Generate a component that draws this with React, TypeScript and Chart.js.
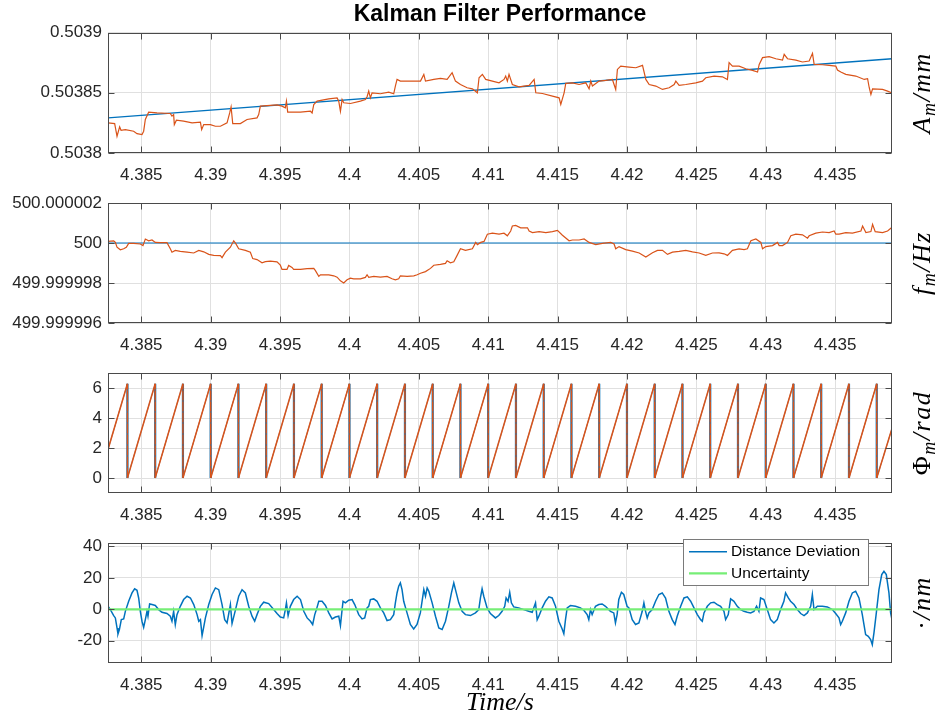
import React, { useEffect, useRef } from 'react';
import { Chart, registerables } from 'chart.js';

Chart.register(...registerables);

// ---------------- shared axis values ----------------
const X_MIN = 4.3826;
const X_MAX = 4.4391;
const xTicks = [4.385, 4.39, 4.395, 4.4, 4.405, 4.41, 4.415, 4.42, 4.425, 4.43, 4.435];
const xTickLabels = ['4.385', '4.39', '4.395', '4.4', '4.405', '4.41', '4.415', '4.42', '4.425', '4.43', '4.435'];

// ---------------- panel 1: amplitude (mm) ----------------
const ampTicks = [0.5038, 0.50385, 0.5039];
const ampTickLabels = ['0.5038', '0.50385', '0.5039'];
const ampModelT = [4.3826, 4.4391];
const ampModelV = [0.5038292, 0.5038783];
const ampEstT = [
  4.3826, 4.38308, 4.38325, 4.38344, 4.38354, 4.38385, 4.38445, 4.38469, 4.38505, 4.38517,
  4.38529, 4.38553, 4.38613, 4.38709, 4.38721, 4.38733, 4.38738, 4.38753, 4.38805, 4.38866,
  4.38926, 4.38935, 4.3895, 4.38998, 4.39034, 4.3907, 4.39118, 4.39137, 4.39147, 4.39159,
  4.39214, 4.39262, 4.39334, 4.39346, 4.39358, 4.39406, 4.39478, 4.39514, 4.39538, 4.39546,
  4.39555, 4.39647, 4.39719, 4.39731, 4.39743, 4.39767, 4.39851, 4.39911, 4.39923, 4.39935,
  4.39947, 4.39959, 4.40007, 4.40079, 4.40115, 4.40127, 4.40139, 4.40151, 4.40163, 4.40223,
  4.40283, 4.40319, 4.40331, 4.40343, 4.40367, 4.4044, 4.40512, 4.40536, 4.40548, 4.40608,
  4.40656, 4.40704, 4.4074, 4.40764, 4.408, 4.40848,
  4.40886, 4.40922, 4.40934, 4.40958, 4.40982, 4.4103, 4.41078, 4.41114, 4.41126, 4.41138,
  4.4115, 4.41174, 4.41222, 4.41295, 4.41331, 4.41343, 4.41391, 4.41463, 4.41511, 4.41523,
  4.41547, 4.41559, 4.41607, 4.41655, 4.41703, 4.41727, 4.41739, 4.41751, 4.41799, 4.41847,
  4.41895, 4.41919, 4.41931, 4.41955, 4.42015, 4.42064, 4.42112, 4.42136, 4.4216, 4.42208,
  4.42256, 4.42304, 4.4234, 4.42352, 4.42376, 4.42424, 4.42496, 4.42544, 4.42568, 4.42628,
  4.42688, 4.42724, 4.42736, 4.4276, 4.42808, 4.42856, 4.42905, 4.42941, 4.42953, 4.42977,
  4.43025, 4.43073, 4.43121, 4.43133, 4.43157, 4.43217, 4.43265, 4.43313, 4.43337, 4.43349,
  4.43409, 4.43457, 4.43505, 4.43517, 4.43541, 4.43577, 4.43649, 4.4371, 4.43734, 4.43746,
  4.43758, 4.4377, 4.43842, 4.43878, 4.43906,
];
const ampEstV = [
  0.503825, 0.5038244, 0.5038139, 0.5038217, 0.5038189, 0.5038194, 0.5038181, 0.5038161, 0.5038153, 0.5038181,
  0.5038278, 0.5038339, 0.5038333, 0.5038328, 0.5038306, 0.5038319, 0.5038236, 0.5038272, 0.5038264, 0.503825,
  0.5038256, 0.5038194, 0.5038236, 0.5038236, 0.5038222, 0.5038222, 0.503825, 0.5038333, 0.5038383, 0.5038244,
  0.5038244, 0.5038278, 0.5038292, 0.5038319, 0.5038389, 0.5038394, 0.50384, 0.5038389, 0.5038375, 0.5038431,
  0.5038339, 0.5038339, 0.5038347, 0.5038333, 0.5038403, 0.5038431, 0.503845, 0.5038458, 0.5038431, 0.5038347,
  0.5038444, 0.5038417, 0.5038411, 0.5038431, 0.5038444, 0.5038467, 0.5038514, 0.5038458, 0.50385, 0.5038492,
  0.5038506, 0.5038492, 0.5038556, 0.5038611, 0.5038597, 0.5038597, 0.5038597, 0.5038653, 0.5038597, 0.5038611,
  0.5038619, 0.5038611, 0.5038667, 0.5038597, 0.5038569, 0.5038542,
  0.5038533, 0.50385, 0.5038625, 0.5038653, 0.5038611, 0.5038597, 0.5038583, 0.5038611, 0.5038639, 0.5038597,
  0.5038653, 0.5038569, 0.503855, 0.5038561, 0.5038611, 0.50385, 0.5038494, 0.5038472, 0.5038458, 0.5038403,
  0.50385, 0.5038578, 0.5038583, 0.5038569, 0.5038583, 0.5038533, 0.5038597, 0.5038556, 0.5038597, 0.5038603,
  0.5038611, 0.5038528, 0.5038694, 0.5038722, 0.5038714, 0.5038708, 0.5038728, 0.5038611, 0.5038569, 0.5038556,
  0.5038528, 0.5038542, 0.5038569, 0.5038597, 0.5038561, 0.5038569, 0.5038583, 0.5038597, 0.5038625, 0.5038639,
  0.5038633, 0.5038611, 0.503875, 0.5038722, 0.5038722, 0.50387, 0.5038686, 0.5038672, 0.5038736, 0.5038792,
  0.50388, 0.5038783, 0.5038772, 0.5038819, 0.5038783, 0.5038772, 0.5038756, 0.5038764, 0.5038828, 0.5038736,
  0.5038733, 0.5038728, 0.5038722, 0.5038689, 0.5038672, 0.5038653, 0.5038639, 0.5038611, 0.5038617, 0.5038542,
  0.5038486, 0.5038533, 0.5038528, 0.5038514, 0.50385,
];

// ---------------- panel 2: frequency (Hz) ----------------
const freqTicks = [499.999996, 499.999998, 500, 500.000002];
const freqTickLabels = ['499.999996', '499.999998', '500', '500.000002'];
const freqModelT = [4.3826, 4.4391];
const freqModelV = [500, 500];
const freqEstT = [
  4.3826, 4.38301, 4.38313, 4.38325, 4.38349, 4.38373, 4.38392, 4.38409, 4.38445, 4.38493,
  4.38512, 4.38529, 4.38553, 4.38577, 4.38601, 4.38637, 4.38685, 4.38709, 4.38721, 4.38745,
  4.38781, 4.3883, 4.38878, 4.38914, 4.3895, 4.38986, 4.39022, 4.3907, 4.39082, 4.39106,
  4.39142, 4.39166, 4.3918, 4.39202, 4.3925, 4.39286, 4.39303, 4.39334, 4.3937, 4.39394,
  4.3943, 4.39478, 4.39502, 4.39514, 4.3955, 4.39562, 4.39586, 4.39598, 4.39647, 4.39695,
  4.39743, 4.39755, 4.39779, 4.39791, 4.39851, 4.39887, 4.39911, 4.39935, 4.39959, 4.39983,
  4.40007, 4.40031, 4.40079, 4.40115, 4.40127, 4.40139, 4.40175, 4.40223, 4.40271, 4.40307,
  4.40331, 4.40355, 4.40367, 4.40416, 4.40464, 4.40488, 4.40512, 4.40548, 4.40584, 4.40608,
  4.40656, 4.40692, 4.40704, 4.40728, 4.40752, 4.40776, 4.408, 4.40836,
  4.40886, 4.4091, 4.40922, 4.40946, 4.4097, 4.40994, 4.4103, 4.41078, 4.41114, 4.41138,
  4.41162, 4.41174, 4.41198, 4.41234, 4.41283, 4.41295, 4.41319, 4.41367, 4.41415, 4.41463,
  4.41499, 4.41535, 4.41583, 4.41607, 4.41655, 4.41691, 4.41727, 4.41775, 4.41823, 4.41883,
  4.41907, 4.41919, 4.41943, 4.41991, 4.42039, 4.42088, 4.42136, 4.42184, 4.4222, 4.42256,
  4.42292, 4.42328, 4.42376, 4.42424, 4.42472, 4.4252, 4.42568, 4.42616, 4.42664, 4.427,
  4.42724, 4.4276, 4.42808, 4.42844, 4.42868, 4.42893, 4.42929, 4.42965, 4.42977, 4.43001,
  4.43049, 4.43085, 4.43097, 4.43121, 4.43157, 4.43181, 4.43217, 4.43265, 4.43301, 4.43313,
  4.43361, 4.43409, 4.43457, 4.43493, 4.43505, 4.43529, 4.43577, 4.43625, 4.43686, 4.43698,
  4.43722, 4.43758, 4.4377, 4.43789, 4.43842, 4.43878, 4.43906,
];
const freqEstV = [
  500.00000008, 500.00000011, 500.00000003, 499.99999979, 499.99999966, 499.99999971, 499.99999979, 499.99999998, 499.99999998, 499.99999995,
  499.99999987, 500.0000002, 500.00000011, 500.00000015, 500.00000003, 500.00000002, 500.00000002, 499.99999971, 499.99999954, 499.99999963,
  499.99999958, 499.99999954, 499.9999995, 499.99999963, 499.99999956, 499.99999943, 499.99999938, 499.99999937, 499.99999927, 499.99999954,
  499.99999979, 500.00000011, 499.99999998, 499.99999971, 499.99999963, 499.99999954, 499.99999922, 499.99999917, 499.99999901, 499.99999907,
  499.99999909, 499.99999906, 499.99999889, 499.99999868, 499.99999868, 499.99999888, 499.99999878, 499.99999868, 499.99999868, 499.99999872,
  499.99999873, 499.99999862, 499.99999833, 499.99999841, 499.99999841, 499.99999836, 499.99999829, 499.99999811, 499.999998, 499.99999816,
  499.99999824, 499.99999821, 499.99999821, 499.99999828, 499.99999841, 499.99999828, 499.99999833, 499.99999829, 499.99999833, 499.99999821,
  499.99999816, 499.99999821, 499.99999836, 499.99999833, 499.99999836, 499.99999841, 499.99999849, 499.99999857, 499.99999873, 499.99999889,
  499.99999893, 499.99999898, 499.99999911, 499.99999901, 499.99999906, 499.99999938, 499.99999971, 499.99999963,
  499.99999971, 500.00000003, 499.99999992, 500.00000003, 500.00000008, 500.00000044, 500.00000049, 500.00000044, 500.00000049, 500.00000036,
  500.0000006, 500.00000085, 500.00000088, 500.00000076, 500.00000076, 500.0000006, 500.00000052, 500.00000057, 500.00000052, 500.00000057,
  500.00000063, 500.00000039, 500.00000011, 500.00000015, 500.00000015, 500.0000002, 500.00000003, 499.99999992, 499.99999998, 500.00000003,
  499.99999995, 499.99999971, 499.99999982, 499.99999967, 499.99999959, 499.9999995, 499.9999993, 499.99999951, 499.99999963, 499.99999963,
  499.99999943, 499.99999954, 499.99999958, 499.99999963, 499.99999956, 499.9999995, 499.99999938, 499.9999995, 499.99999951, 499.99999946,
  499.99999938, 499.99999963, 499.99999971, 499.99999967, 499.99999971, 500.00000011, 500.0000002, 500.00000003, 499.99999971, 499.99999982,
  499.99999987, 500.00000003, 499.99999987, 499.99999987, 500.00000003, 500.00000036, 500.00000044, 500.00000041, 500.00000024, 500.00000036,
  500.00000049, 500.00000055, 500.00000052, 500.0000006, 500.00000044, 500.00000044, 500.00000052, 500.00000049, 500.0000006, 500.00000085,
  500.00000052, 500.00000057, 500.00000093, 500.00000057, 500.00000052, 500.0000006, 500.00000076,
];

// ---------------- panel 3: phase (rad) ----------------
const phaseTicks = [0, 2, 4, 6];
const phaseTickLabels = ['0', '2', '4', '6'];
const phaseT = [
  4.3826, 4.384, 4.384, 4.386, 4.386, 4.388, 4.388, 4.39, 4.39, 4.392, 4.392, 4.394, 4.394, 4.396, 4.396,
  4.398, 4.398, 4.4, 4.4, 4.402, 4.402, 4.404, 4.404, 4.406, 4.406, 4.408, 4.408, 4.41, 4.41, 4.412, 4.412,
  4.414, 4.414, 4.416, 4.416, 4.418, 4.418, 4.42, 4.42, 4.422, 4.422, 4.424, 4.424, 4.426, 4.426, 4.428, 4.428,
  4.43, 4.43, 4.432, 4.432, 4.434, 4.434, 4.436, 4.436, 4.438, 4.438, 4.4391,
];
const phaseModelV = [
  1.9, 6.28, 0, 6.28, 0, 6.28, 0, 6.28, 0, 6.28, 0, 6.28, 0, 6.28, 0,
  6.28, 0, 6.28, 0, 6.28, 0, 6.28, 0, 6.28, 0, 6.28, 0, 6.28, 0, 6.28, 0,
  6.28, 0, 6.28, 0, 6.28, 0, 6.28, 0, 6.28, 0, 6.28, 0, 6.28, 0, 6.28, 0,
  6.28, 0, 6.28, 0, 6.28, 0, 6.28, 0, 6.28, 0, 3.3,
];
const phaseEstV = [
  1.9, 6.28, 0, 6.28, 0, 6.28, 0, 6.28, 0, 6.28, 0, 6.28, 0, 6.28, 0,
  6.28, 0, 6.28, 0, 6.28, 0, 6.28, 0, 6.28, 0, 6.28, 0, 6.28, 0, 6.28, 0,
  6.28, 0, 6.28, 0, 6.28, 0, 6.28, 0, 6.28, 0, 6.28, 0, 6.28, 0, 6.28, 0,
  6.28, 0, 6.28, 0, 6.28, 0, 6.28, 0, 6.28, 0, 3.3,
];

// ---------------- panel 4: distance deviation (nm) ----------------
const distTicks = [-20, 0, 20, 40];
const distTickLabels = ['-20', '0', '20', '40'];
const uncertaintyT = [4.3826, 4.4391];
const uncertaintyV = [0, 0];
const distT = [
  4.3826, 4.38277, 4.38301, 4.38313, 4.38325, 4.38332, 4.38342, 4.38356, 4.38373, 4.38385,
  4.38409, 4.38433, 4.38452, 4.38469, 4.38481, 4.38493, 4.38505, 4.38517, 4.38529, 4.38541,
  4.38548, 4.3856, 4.38577, 4.38601, 4.38625, 4.38649, 4.38685, 4.38709, 4.38721, 4.38733,
  4.38745, 4.38757, 4.38781, 4.38805, 4.3883, 4.38854, 4.38878, 4.38902, 4.38914, 4.38926,
  4.38938, 4.3895, 4.38962, 4.38986, 4.3901, 4.39034, 4.39058, 4.39082, 4.39101, 4.39118,
  4.39142, 4.39154, 4.39179, 4.39202, 4.39226, 4.3925, 4.39274, 4.39298, 4.39317, 4.39334,
  4.39358, 4.39382, 4.39418, 4.39454, 4.39478, 4.39502, 4.39526, 4.39538, 4.39546, 4.39558,
  4.39574, 4.39598, 4.39623, 4.39647, 4.39671, 4.39695, 4.39719, 4.39735, 4.3975, 4.39762,
  4.39779, 4.39803, 4.39827, 4.39851, 4.39875, 4.39899, 4.39923, 4.39935, 4.39947, 4.39954,
  4.39971, 4.39995, 4.40019, 4.40038, 4.40067, 4.40091, 4.4011, 4.40127,
  4.40139, 4.40151, 4.40175, 4.40199, 4.40223, 4.40247, 4.40271, 4.40295, 4.40319, 4.40331,
  4.40343, 4.40355, 4.40367, 4.40379, 4.40391, 4.40415, 4.40439, 4.40463, 4.40487, 4.40511,
  4.40536, 4.40548, 4.4056, 4.40572, 4.40596, 4.4062, 4.40644, 4.40668, 4.40692, 4.40716,
  4.40735, 4.40752, 4.40764, 4.40788, 4.40812, 4.40836, 4.40872, 4.40908, 4.40932, 4.40944,
  4.40956, 4.40968, 4.40992, 4.41016, 4.41052, 4.41076, 4.411, 4.41119, 4.41129, 4.41143,
  4.41155, 4.41167, 4.41184, 4.4122, 4.41256, 4.41292, 4.41317, 4.41341, 4.41353, 4.41365,
  4.41389, 4.41413, 4.41437, 4.41461, 4.41485, 4.41509, 4.41533, 4.41545, 4.41557, 4.41569,
  4.41593, 4.41629, 4.41665, 4.41689, 4.41713, 4.41725, 4.41737, 4.41749, 4.41773, 4.41797,
  4.41821, 4.41845, 4.41881, 4.41905, 4.41917, 4.41929, 4.41941, 4.4196, 4.41977, 4.42001,
  4.42014, 4.42038, 4.42062, 4.42086, 4.4211, 4.42122, 4.42134, 4.42146, 4.42158, 4.42182,
  4.42206, 4.4223, 4.42254, 4.42278, 4.42302, 4.42326, 4.42346, 4.42362, 4.42387, 4.42411,
  4.42435, 4.42459, 4.42483, 4.42507, 4.42531, 4.42543, 4.42555, 4.42579, 4.42603, 4.42627,
  4.42651, 4.42675, 4.42699, 4.42711, 4.4273, 4.42747, 4.42771, 4.42795, 4.42819, 4.42843,
  4.42867, 4.42891, 4.42915, 4.42934, 4.42951, 4.42963, 4.42987, 4.43011, 4.43035, 4.43059,
  4.43083, 4.43107, 4.43131, 4.43143, 4.43163, 4.43179, 4.43204, 4.43228, 4.43252, 4.43276,
  4.433, 4.43324, 4.43336, 4.43348, 4.43372, 4.43408, 4.43444, 4.4348, 4.43504, 4.43528,
  4.4354, 4.43552, 4.43576, 4.436, 4.43624, 4.43648, 4.43672, 4.43696, 4.43708, 4.4372,
  4.43739, 4.43756, 4.43768, 4.4378, 4.43797, 4.43816, 4.43836, 4.43852, 4.43869, 4.43888,
  4.439, 4.43912,
];
const distV = [
  1.9, -0.2, -4.0, -5.5, -11.9, -15.7, -12.9, -6.6, -6.1, -1.3,
  5.1, 10.4, 13.0, 12.1, 7.2, -1.3, -7.6, -11.5, -6.6, -1.3,
  -4.4, 3.4, 3.0, 2.4, -0.2, -1.9, -2.7, -4.4, -7.6, -1.3,
  -9.7, -3.4, 1.9, 6.2, 8.3, 7.2, 3.0, -3.4, -7.6, -6.6,
  -16.8, -11.2, -5.5, 3.0, 9.4, 13.6, 12.5, 3.0, -6.6, -8.7,
  3.0, -9.1, -0.2, 8.3, 12.5, 10.4, 1.9, -4.4, -7.6, -3.4,
  1.9, 4.5, 3.6, -0.2, -2.7, -4.9, -5.5, -0.2, 4.1, -4.0,
  1.9, 6.2, 8.3, 6.2, -1.3, -5.5, -7.6, -9.7, -3.4, -0.2,
  5.1, 5.1, 2.4, -2.3, -6.1, -4.9, -4.4, -10.4, -0.2, 5.1,
  4.1, 5.8, 6.2, 3.0, -3.4, -6.1, -5.5, 0.9,
  1.9, 6.2, 6.6, 5.1, 0.9, -2.3, -7.2, -6.6, -3.4, 4.1,
  10.4, 14.7, 16.8, 12.5, 5.1, -2.3, -9.7, -12.5, -9.7, -2.3,
  12.5, 8.3, 13.6, 11.5, 4.1, -4.4, -11.9, -12.9, -7.6, 1.9,
  10.4, 16.8, 12.5, 4.1, -1.3, -3.4, -4.0, -2.3, -0.2, 7.2,
  13.0, 8.3, 0.9, -2.7, -5.5, -4.0, -1.3, 1.9, 7.2, 5.1,
  10.8, 4.1, 1.5, 0.9, -0.2, -1.3, -1.9, 4.1, -6.6, -4.4,
  0.9, 5.1, 7.9, 7.2, 1.9, -7.6, -12.5, -15.5, -6.6, 0.9,
  2.4, 1.9, 0.9, -0.6, -3.4, -6.6, -0.2, -3.4, 1.9, 3.0,
  3.4, 1.9, -1.3, -2.3, -8.7, -3.4, 6.2, 10.8, 9.4, 1.9,
  0.9, -6.6, -9.7, -8.7, -1.3, 4.1, -1.3, -5.5, -2.3, -0.2,
  5.1, 9.4, 10.4, 7.2, -1.3, -6.6, -9.7, -4.4, 1.9, 7.2,
  7.9, 5.1, 0.9, -3.4, -6.6, -7.6, -2.3, 1.9, 4.1, 4.5,
  3.0, 1.9, -1.3, -6.6, -3.4, 6.6, 5.1, 1.9, -0.2, -1.3,
  -1.9, -2.3, -1.3, 1.9, -1.3, 7.2, 6.2, -0.2, -6.6, -8.7,
  -6.6, -0.2, 5.1, 10.4, 7.2, 5.1, 3.0, -0.2, -2.7, -4.0,
  -2.3, 1.9, 9.4, -0.2, 1.9, 1.9, 1.5, -0.2, -2.7, -5.5,
  -9.7, -7.6, -2.3, 5.1, 10.4, 11.5, 7.2, -3.4, -9.7, -16.1,
  -17.2, -19.3, -22.5, -15.0, -2.3, 12.5, 22.1, 24.2, 22.1, 10.4,
  -2.3, -7.6,
];

// ---------------- styling ----------------
const BLUE = '#0072BD';
const ORANGE = '#D95319';
const GREEN = '#76EE76';
const AXIS = '#4a4a4a';
const TEXT = '#262626';
const GRID = '#e0e0e0';
const SANS = '"Liberation Sans", Arial, Helvetica, sans-serif';
const SERIF = '"Liberation Serif", "Times New Roman", serif';

const pts = (t: number[], v: number[]) => t.map((x, i) => ({ x, y: v[i] }));

type Part = { text: string; sub?: boolean; upright?: boolean };

// Box around the axes and MATLAB-style inward tick marks
const framePlugin = {
  id: 'matlabFrame',
  afterDatasetsDraw(chart: any) {
    const { ctx, chartArea: a, scales } = chart;
    const L = Math.round(a.left) + 0.5;
    const R = Math.round(a.right) - 0.5;
    const T = Math.round(a.top) + 0.5;
    const B = Math.round(a.bottom) - 0.5;
    const len = 6;
    ctx.save();
    ctx.strokeStyle = AXIS;
    ctx.lineWidth = 1;
    ctx.beginPath();
    scales.x.ticks.forEach((t: any) => {
      const p = Math.round(scales.x.getPixelForValue(t.value)) + 0.5;
      ctx.moveTo(p, B); ctx.lineTo(p, B - len);
      ctx.moveTo(p, T); ctx.lineTo(p, T + len);
    });
    scales.y.ticks.forEach((t: any) => {
      const p = Math.round(scales.y.getPixelForValue(t.value)) + 0.5;
      ctx.moveTo(L, p); ctx.lineTo(L + len, p);
      ctx.moveTo(R, p); ctx.lineTo(R - len, p);
    });
    ctx.stroke();
    ctx.strokeRect(L, T, R - L, B - T);
    ctx.restore();
  },
};

// Rotated math-style label on the right of the axes
function rightLabelPlugin(parts: Part[]) {
  return {
    id: 'rightMathLabel',
    afterDraw(chart: any) {
      const { ctx, chartArea: a } = chart;
      const size = 26;
      const subSize = 18;
      const font = (p: Part) => `${p.upright ? '' : 'italic '}${p.sub ? subSize : size}px ${SERIF}`;
      ctx.save();
      ctx.translate(a.right + 38, (a.top + a.bottom) / 2);
      ctx.rotate(-Math.PI / 2);
      ctx.fillStyle = '#000';
      ctx.textAlign = 'left';
      ctx.textBaseline = 'alphabetic';
      try { (ctx as any).letterSpacing = '1.5px'; } catch (e) { /* ignore */ }
      const widths = parts.map((p) => { ctx.font = font(p); return ctx.measureText(p.text).width; });
      const total = widths.reduce((s, w) => s + w, 0);
      let x = -total / 2;
      parts.forEach((p, i) => {
        ctx.font = font(p);
        ctx.fillText(p.text, x, p.sub ? 5 : 0);
        x += widths[i];
      });
      ctx.restore();
    },
  };
}

// Boxed legend in the upper right, like MATLAB's 'northeast'
const boxLegendPlugin = {
  id: 'boxLegend',
  afterDraw(chart: any) {
    const { ctx, chartArea: a } = chart;
    const w = 185;
    const h = 46;
    const left = Math.round(a.right - 209);
    const top = Math.round(a.top - 4);
    ctx.save();
    ctx.fillStyle = '#fff';
    ctx.fillRect(left, top, w, h);
    ctx.strokeStyle = '#7a7a7a';
    ctx.lineWidth = 1;
    ctx.strokeRect(left + 0.5, top + 0.5, w, h);
    ctx.font = `15.5px ${SANS}`;
    ctx.textBaseline = 'middle';
    ctx.textAlign = 'left';
    chart.data.datasets.forEach((ds: any, i: number) => {
      const y = top + 12.7 + i * 21.6;
      ctx.strokeStyle = ds.borderColor;
      ctx.lineWidth = ds.borderWidth;
      ctx.beginPath();
      ctx.moveTo(left + 6, y);
      ctx.lineTo(left + 44, y);
      ctx.stroke();
      ctx.fillStyle = '#000';
      ctx.fillText(ds.label, left + 48, y);
    });
    ctx.restore();
  },
};

function baseOptions(o: {
  yMin: number; yMax: number; yTicks: number[]; yLabels: string[];
  padTop: number; xHeight: number; title?: string; xTitle?: string;
}) {
  return {
    responsive: false,
    animation: false,
    devicePixelRatio: 1,
    events: [],
    layout: { padding: { top: o.padTop, right: 44, bottom: 0, left: 0 } },
    elements: { point: { radius: 0 }, line: { tension: 0 } },
    plugins: {
      legend: { display: false },
      tooltip: { enabled: false },
      title: o.title
        ? {
            display: true,
            text: o.title,
            fullSize: false,
            color: '#000',
            font: { family: SANS, size: 23, weight: 'bold', lineHeight: 1.2 },
            padding: { top: 1, bottom: 4 },
          }
        : { display: false },
    },
    scales: {
      x: {
        type: 'linear',
        min: X_MIN,
        max: X_MAX,
        bounds: 'data',
        afterBuildTicks: (s: any) => { s.ticks = xTicks.map((value) => ({ value })); },
        afterFit: (s: any) => { s.height = o.xHeight; },
        ticks: {
          autoSkip: false, maxRotation: 0, minRotation: 0, padding: 12, color: TEXT,
          font: { family: SANS, size: 17 },
          callback: (_v: any, i: number) => xTickLabels[i] ?? '',
        },
        grid: { color: GRID, lineWidth: 1, drawTicks: false },
        border: { display: false },
        title: o.xTitle
          ? {
              display: true, text: o.xTitle, color: '#000',
              font: { family: SERIF, size: 26, style: 'italic', lineHeight: 1.2 },
              padding: { top: 0, bottom: 4 },
            }
          : { display: false },
      },
      y: {
        type: 'linear',
        position: 'left',
        min: o.yMin,
        max: o.yMax,
        bounds: 'data',
        afterBuildTicks: (s: any) => { s.ticks = o.yTicks.map((value) => ({ value })); },
        afterFit: (s: any) => { s.width = 108; },
        ticks: {
          padding: 6, color: TEXT,
          font: { family: SANS, size: 17 },
          callback: (_v: any, i: number) => o.yLabels[i] ?? '',
        },
        grid: { color: GRID, lineWidth: 1, drawTicks: false },
        border: { display: false },
      },
    },
  };
}

function ampConfig(): any {
  return {
    type: 'line',
    data: {
      datasets: [
        { label: 'Estimate', data: pts(ampEstT, ampEstV), borderColor: ORANGE, borderWidth: 1.2, order: 0 },
        { label: 'Model', data: pts(ampModelT, ampModelV), borderColor: BLUE, borderWidth: 1.3, order: 1 },
      ],
    },
    options: baseOptions({
      yMin: 0.5038, yMax: 0.5039, yTicks: ampTicks, yLabels: ampTickLabels,
      padTop: 0, xHeight: 32, title: 'Kalman Filter Performance',
    }),
    plugins: [framePlugin, rightLabelPlugin([{ text: 'A' }, { text: 'm', sub: true }, { text: '/mm' }])],
  };
}

function freqConfig(): any {
  return {
    type: 'line',
    data: {
      datasets: [
        { label: 'Estimate', data: pts(freqEstT, freqEstV), borderColor: ORANGE, borderWidth: 1.2, order: 0 },
        { label: 'Model', data: pts(freqModelT, freqModelV), borderColor: BLUE, borderWidth: 1.2, order: 1 },
      ],
    },
    options: baseOptions({
      yMin: 499.999996, yMax: 500.000002, yTicks: freqTicks, yLabels: freqTickLabels,
      padTop: 18, xHeight: 32,
    }),
    plugins: [framePlugin, rightLabelPlugin([{ text: 'f' }, { text: 'm', sub: true }, { text: '/Hz' }])],
  };
}

const isDrop = (c: any) => c.p1.parsed.y < c.p0.parsed.y - 1;

function phaseConfig(): any {
  return {
    type: 'line',
    data: {
      datasets: [
        {
          label: 'Estimate', data: pts(phaseT, phaseEstV), borderColor: ORANGE, borderWidth: 1.5, order: 0,
          segment: { borderDash: (c: any) => (isDrop(c) ? [6, 5] : undefined) },
        },
        {
          label: 'Model', data: pts(phaseT, phaseModelV), borderColor: BLUE, borderWidth: 0.7, order: 1,
          segment: { borderWidth: (c: any) => (isDrop(c) ? 2.2 : undefined) },
        },
      ],
    },
    options: baseOptions({
      yMin: -1, yMax: 7, yTicks: phaseTicks, yLabels: phaseTickLabels,
      padTop: 18, xHeight: 32,
    }),
    plugins: [framePlugin, rightLabelPlugin([{ text: 'Φ', upright: true }, { text: 'm', sub: true }, { text: '/rad' }])],
  };
}

function distConfig(): any {
  return {
    type: 'line',
    data: {
      datasets: [
        { label: 'Distance Deviation', data: pts(distT, distV), borderColor: BLUE, borderWidth: 1.5, order: 2 },
        { label: 'Uncertainty', data: pts(uncertaintyT, uncertaintyV), borderColor: GREEN, borderWidth: 2.2, order: 1 },
      ],
    },
    options: baseOptions({
      yMin: -34.2, yMax: 42.2, yTicks: distTicks, yLabels: distTickLabels,
      padTop: 18, xHeight: 60, xTitle: 'Time/s',
    }),
    plugins: [framePlugin, boxLegendPlugin, rightLabelPlugin([{ text: '·', upright: true }, { text: '/nm' }])],
  };
}

function ChartCanvas({ top, height, build }: { top: number; height: number; build: () => any }) {
  const ref = useRef<HTMLCanvasElement | null>(null);
  useEffect(() => {
    if (!ref.current) return;
    const chart = new Chart(ref.current, build());
    return () => chart.destroy();
  }, [build]);
  return (
    <canvas
      ref={ref}
      width={936}
      height={height}
      style={{ position: 'absolute', left: 0, top, width: 936, height, display: 'block' }}
    />
  );
}

export default function App() {
  return (
    <div style={{ position: 'absolute', left: 0, top: 0, width: 936, height: 723, background: '#fff', overflow: 'hidden' }}>
      <ChartCanvas top={0} height={185} build={ampConfig} />
      <ChartCanvas top={185} height={170} build={freqConfig} />
      <ChartCanvas top={355} height={170} build={phaseConfig} />
      <ChartCanvas top={525} height={198} build={distConfig} />
    </div>
  );
}
